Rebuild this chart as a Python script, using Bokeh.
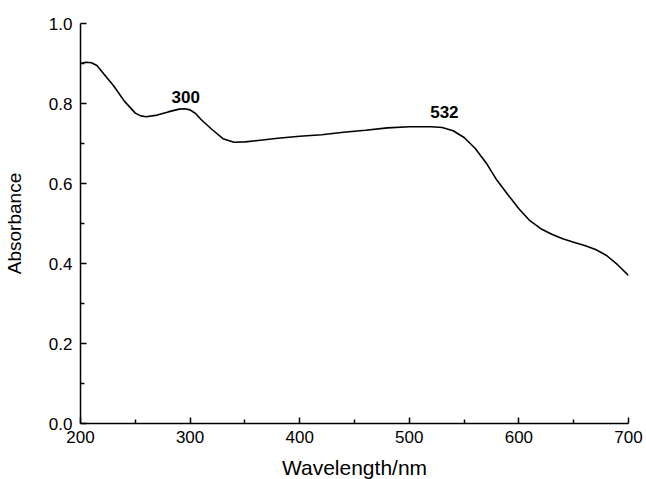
from bokeh.plotting import figure
from bokeh.models import FixedTicker, NumeralTickFormatter, Range1d, ColumnDataSource
from bokeh.core.properties import value
from bokeh.embed import file_html
from bokeh.resources import INLINE

wavelength = [200, 205, 210, 215, 220, 230, 240, 250, 255, 260, 270, 280, 290, 295,
              300, 305, 310, 320, 330, 340, 350, 360, 380, 400, 420, 440, 460, 480,
              500, 520, 530, 540, 550, 560, 570, 580, 590, 600, 610, 620, 630, 640,
              650, 660, 670, 680, 690, 700]
absorbance = [0.900, 0.903, 0.902, 0.895, 0.878, 0.845, 0.806, 0.776, 0.769, 0.767,
              0.771, 0.779, 0.786, 0.787, 0.784, 0.775, 0.760, 0.735, 0.712, 0.703,
              0.704, 0.707, 0.713, 0.718, 0.722, 0.728, 0.733, 0.739, 0.742, 0.742,
              0.740, 0.732, 0.715, 0.688, 0.652, 0.608, 0.572, 0.537, 0.507, 0.487,
              0.473, 0.462, 0.453, 0.445, 0.435, 0.420, 0.397, 0.370]

peak_labels = ["300", "532"]
peak_x = [296, 532]
peak_y = [0.8175, 0.778]

x_ticks = [200, 300, 400, 500, 600, 700]
y_ticks = [0.0, 0.2, 0.4, 0.6, 0.8, 1.0]

FONT = "Liberation Sans"

p = figure(frame_width=548, frame_height=400, output_backend="svg", toolbar_location=None,
           x_range=Range1d(200, 700), y_range=Range1d(0, 1.0),
           min_border_left=73, min_border_right=17, min_border_top=23, min_border_bottom=40)
p.outline_line_color = None
p.xgrid.visible = False
p.ygrid.visible = False

p.line(wavelength, absorbance, line_color="black", line_width=1.6)

src = ColumnDataSource(dict(x=peak_x, y=peak_y, t=peak_labels))
p.text(x="x", y="y", text="t", source=src, text_font=value(FONT), text_font_style="bold",
       text_font_size="17px", text_align="center", text_baseline="middle", text_color="black")

p.xaxis.ticker = FixedTicker(ticks=x_ticks, minor_ticks=[250, 350, 450, 550, 650])
p.yaxis.ticker = FixedTicker(ticks=y_ticks, minor_ticks=[0.1, 0.3, 0.5, 0.7, 0.9])
p.yaxis.formatter = NumeralTickFormatter(format="0.0")

p.xaxis.axis_label = "Wavelength/nm"
p.yaxis.axis_label = "Absorbance"

for ax in (p.xaxis, p.yaxis):
    ax.axis_line_color = "black"
    ax.axis_line_width = 1.5
    ax.major_tick_line_color = "black"
    ax.minor_tick_line_color = "black"
    ax.major_tick_line_width = 1.5
    ax.minor_tick_line_width = 1.5
    ax.major_tick_in = 6
    ax.major_tick_out = 0
    ax.minor_tick_in = 4
    ax.minor_tick_out = 0
    ax.major_label_text_font = FONT
    ax.major_label_text_font_size = "17px"
    ax.major_label_text_color = "black"
    ax.axis_label_text_font = FONT
    ax.axis_label_text_font_style = "normal"
    ax.axis_label_text_color = "black"

p.xaxis.axis_label_text_font_size = "21px"
p.yaxis.axis_label_text_font_size = "19px"
p.xaxis.major_label_standoff = 7
p.xaxis.axis_label_standoff = 10
p.yaxis.major_label_standoff = 8
p.yaxis.axis_label_standoff = 21

open("out.html", "w").write(file_html(p, INLINE))
